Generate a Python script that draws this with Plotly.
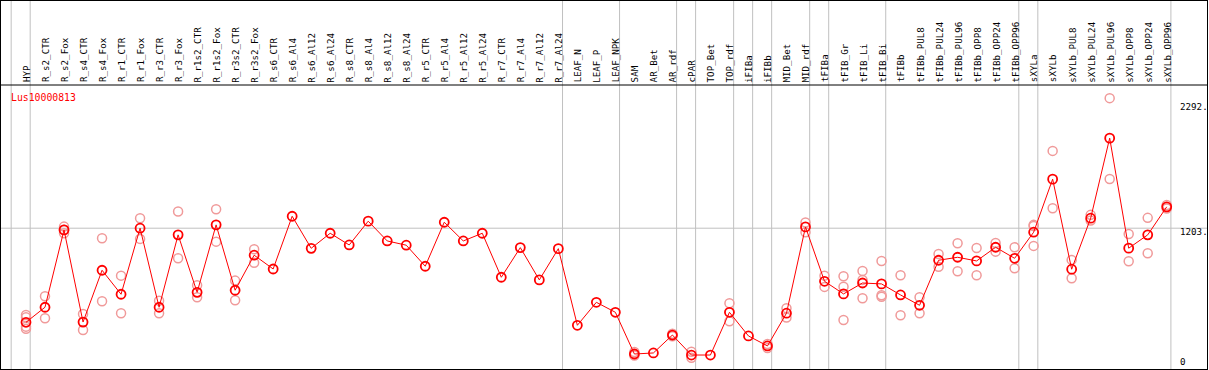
import plotly.graph_objects as go

title_text = "Lus10000813"

categories = [
    "HYP", "R_s2_CTR", "R_s2_Fox", "R_s4_CTR", "R_s4_Fox", "R_r1_CTR", "R_r1_Fox",
    "R_r3_CTR", "R_r3_Fox", "R_r1s2_CTR", "R_r1s2_Fox", "R_r3s2_CTR", "R_r3s2_Fox",
    "R_s6_CTR", "R_s6_Al4", "R_s6_Al12", "R_s6_Al24", "R_s8_CTR", "R_s8_Al4",
    "R_s8_Al12", "R_s8_Al24", "R_r5_CTR", "R_r5_Al4", "R_r5_Al12", "R_r5_Al24",
    "R_r7_CTR", "R_r7_Al4", "R_r7_Al12", "R_r7_Al24", "LEAF_N", "LEAF_P", "LEAF_NPK",
    "SAM", "AR_Bet", "AR_rdf", "cPAR", "TOP_Bet", "TOP_rdf", "iFIBa", "iFIBb",
    "MID_Bet", "MID_rdf", "tFIBa", "tFIB_Gr", "tFIB_Li", "tFIB_Bi", "tFIBb",
    "tFIBb_PUL8", "tFIBb_PUL24", "tFIBb_PUL96", "tFIBb_OPP8", "tFIBb_OPP24",
    "tFIBb_OPP96", "sXYLa", "sXYLb", "sXYLb_PUL8", "sXYLb_PUL24", "sXYLb_PUL96",
    "sXYLb_OPP8", "sXYLb_OPP24", "sXYLb_OPP96",
]

mean_values = [
    384, 515, 1188, 386, 837, 628, 1203, 515, 1145, 645, 1232, 663, 968,
    848, 1307, 1028, 1159, 1057, 1264, 1092, 1055, 872, 1255, 1092, 1159,
    776, 1034, 753, 1025, 358, 558, 471,
    108, 117, 273, 99, 99, 471, 265, 178,
    463, 1214, 741, 631, 726, 718, 622,
    532, 924, 950, 918, 1037, 941,
    1168, 1630, 846, 1290, 1987, 1029, 1145, 1389,
]

replicate_values = [
    [448, 428, 346, 328], [611, 419], [1217, 1190, 1159], [456, 317], [1116, 567],
    [790, 463], [1290, 1110], [572, 463], [1348, 941], [706, 602], [1368, 1086],
    [747, 576], [1020, 903],
    [], [], [], [], [], [], [], [], [], [], [], [], [], [], [], [], [], [], [],
    [125, 95], [], [285, 262], [128, 76], [], [550, 393], [], [195, 160],
    [506, 425], [1252, 1168], [790, 692], [785, 694, 404], [831, 753, 593],
    [918, 619, 607], [793, 445],
    [602, 463], [979, 868], [1072, 828], [1031, 793], [1075, 999], [1037, 854],
    [1232, 1222, 1049], [1876, 1377], [927, 767], [1319, 1269], [2335, 1632],
    [1153, 915], [1293, 985], [1405, 1375],
]

# categories that close a group (a separator line follows each)
group_ends = ["HYP", "R_r7_Al24", "LEAF_NPK", "AR_rdf", "cPAR", "TOP_rdf", "iFIBa",
              "iFIBb", "MID_rdf", "tFIBa", "tFIB_Bi", "tFIBb_OPP96", "sXYLa",
              "sXYLb_OPP96"]

y_tick_values = [2292, 1203, 0]
y_tick_labels = ["2292.", "1203.", "0"]
grid_value = 1203

# ---- layout geometry ----
W, H = 1209, 370
ML, MR, MT, MB = 1, 2, 1, 1
plot_w = W - ML - MR
plot_h = H - MT - MB
x_range = [-1.315, -1.315 + plot_w / 19.012]
y_range = [-22.6, 3180.7]


def paper_y(px):
    return (H - MB - px) / plot_h


def paper_x(px):
    return (px - ML) / plot_w


idx = list(range(len(categories)))
rep_x, rep_y = [], []
for i, reps in zip(idx, replicate_values):
    for v in reps:
        rep_x.append(i)
        rep_y.append(v)

mono = "DejaVu Sans Mono"
red = "#ff0000"
pink = "#f09a9a"
grid = "#c0c0c0"

fig = go.Figure()
fig.add_trace(go.Scatter(
    x=rep_x, y=rep_y, mode="markers",
    marker=dict(symbol="circle-open", size=9, color=pink, line=dict(width=1.5, color=pink)),
    hoverinfo="skip", showlegend=False,
))
fig.add_trace(go.Scatter(
    x=idx, y=mean_values, mode="lines+markers",
    line=dict(color=red, width=1),
    marker=dict(symbol="circle-open", size=9, color=red, line=dict(width=1.8, color=red)),
    showlegend=False,
))

shapes = []
shapes.append(dict(type="line", xref="paper", x0=0, x1=1, yref="y", y0=grid_value, y1=grid_value,
                   line=dict(color=grid, width=1), layer="below"))
sep_positions = [-1] + [categories.index(c) for c in group_ends]
for p in sep_positions:
    shapes.append(dict(type="line", xref="x", x0=p + 0.22, x1=p + 0.22, yref="paper", y0=0, y1=1,
                       line=dict(color=grid, width=1), layer="below"))
shapes.append(dict(type="line", xref="paper", x0=0, x1=1, yref="paper",
                   y0=paper_y(85), y1=paper_y(85), line=dict(color="black", width=1)))

annotations = []
for i, c in zip(idx, categories):
    annotations.append(dict(
        x=i, xref="x", y=paper_y(83.5), yref="paper", text=c, textangle=-90,
        showarrow=False, xanchor="center", yanchor="bottom", borderpad=0,
        font=dict(family=mono, size=9.2, color="black"),
    ))
annotations.append(dict(
    x=paper_x(9), xref="paper", y=paper_y(97), yref="paper", text=title_text,
    showarrow=False, xanchor="left", yanchor="middle",
    font=dict(family=mono, size=9.8, color=red),
))
shifts = [-3, -3, 4.5]
for v, t, s in zip(y_tick_values, y_tick_labels, shifts):
    annotations.append(dict(
        x=paper_x(1178), xref="paper", y=v, yref="y", yshift=s, text=t,
        showarrow=False, xanchor="left", yanchor="middle",
        font=dict(family=mono, size=9.2, color="black"),
    ))

fig.update_layout(
    width=W, height=H,
    margin=dict(l=ML, r=MR, t=MT, b=MB, pad=0),
    paper_bgcolor="white", plot_bgcolor="white",
    xaxis=dict(range=x_range, showgrid=False, zeroline=False, showticklabels=False,
               ticks="", showline=True, mirror=True, linecolor="black", linewidth=1),
    yaxis=dict(range=y_range, showgrid=False, zeroline=False, showticklabels=False,
               ticks="", showline=True, mirror=True, linecolor="black", linewidth=1),
    shapes=shapes, annotations=annotations,
)

fig.write_html(
    "out.html",
    config={"displayModeBar": False},
    post_script="document.body.style.margin='0';document.body.style.padding='0';",
)
